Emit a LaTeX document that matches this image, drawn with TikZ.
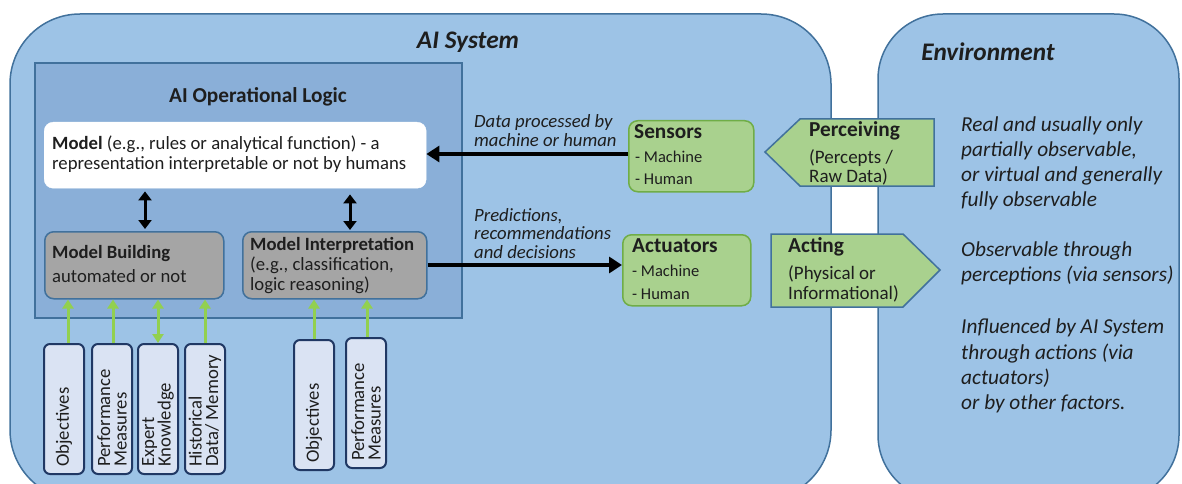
\documentclass[tikz,border=0pt]{standalone}
\usepackage{fontspec}
\setmainfont{Carlito}
\usetikzlibrary{arrows.meta}
\definecolor{sysblue}{HTML}{9DC3E6}
\definecolor{sysedge}{HTML}{41719C}
\definecolor{oplogic}{HTML}{8AAFD8}
\definecolor{greenfill}{HTML}{A9D18E}
\definecolor{greenedge}{HTML}{70AD47}
\definecolor{grayfill}{HTML}{A5A5A5}
\definecolor{inpfill}{HTML}{DAE3F3}
\definecolor{inpedge}{HTML}{203864}
\definecolor{arrowgreen}{HTML}{92D050}
\definecolor{txt}{HTML}{1E1E1E}
\begin{document}
\begin{tikzpicture}[x=1pt,y=-1pt,
  every node/.style={text=txt},
  bigbox/.style={draw=sysedge, line width=1.5pt, fill=sysblue},
  inbox/.style={draw=inpedge, line width=2pt, fill=inpfill, rounded corners=6pt,
    minimum width=40pt, minimum height=130pt, inner sep=0pt, anchor=north west},
  greenbox/.style={draw=greenedge, line width=1.5pt, fill=greenfill, rounded corners=9pt,
    inner sep=0pt, anchor=north west},
  graybox/.style={draw=sysedge, line width=1.5pt, fill=grayfill, rounded corners=9pt,
    inner sep=0pt, anchor=north west},
  lbl/.style={inner sep=0pt, align=left},
  rlbl/.style={inner sep=0pt, align=left, rotate=90, anchor=west,
    font=\fontsize{18.7}{16.5}\selectfont},
  blackarrow/.style={draw=black, line width=4.5pt, -{Triangle[length=13pt,width=16pt]}},
  dblarrow/.style={draw=black, line width=3pt, {Triangle[length=9pt,width=13pt]}-{Triangle[length=9pt,width=13pt]}},
  garrow/.style={draw=arrowgreen, line width=3pt, -{Triangle[length=9pt,width=11pt]}},
  gdarrow/.style={draw=arrowgreen, line width=3pt, {Triangle[length=9pt,width=11pt]}-{Triangle[length=9pt,width=11pt]}},
  pent/.style={draw=sysedge, line width=1.5pt, fill=greenfill, line join=miter}
]
\useasboundingbox (0,0) rectangle (1182,484);
\clip (0,0) rectangle (1182,484);

% big containers
\draw[bigbox, rounded corners=70pt] (10,14) rectangle (831,500);
\draw[bigbox, rounded corners=65pt] (878,14) rectangle (1179,500);

\node[font=\fontsize{25.3}{28}\selectfont\bfseries\itshape] (aisys) at (468,42) {AI System};
\node[font=\fontsize{25.3}{28}\selectfont\bfseries\itshape] (env) at (988,52) {Environment};

% operational logic
\draw[draw=sysedge, line width=1.5pt, fill=oplogic] (35,63) rectangle (462,318);
\node[font=\fontsize{21.3}{24}\selectfont\bfseries] (opl) at (258,97) {AI Operational Logic};

\node[draw=white, fill=white, rounded corners=9pt, minimum width=382pt, minimum height=66pt,
  inner sep=0pt, anchor=north west] (model) at (44,122) {};
\node[lbl, anchor=north west, font=\fontsize{18.7}{20}\selectfont] (modeltxt) at (52,136)
  {\textbf{Model} (e.g., rules or analytical function) - a\\representation interpretable or not by humans};

\node[graybox, minimum width=179pt, minimum height=67pt] (mb) at (44,231) {};
\node[lbl, anchor=north west, font=\fontsize{18.7}{24}\selectfont] (mbtxt) at (52,245)
  {\textbf{Model Building}\\automated or not};

\node[graybox, minimum width=184pt, minimum height=67pt] (mi) at (242,231) {};
\node[lbl, anchor=north west, font=\fontsize{18.7}{20}\selectfont] (mitxt) at (250,237)
  {\textbf{Model Interpretation}\\(e.g., classification,\\logic reasoning)};

\draw[dblarrow] ([yshift=-3]model.south -| 145,0) -- ([yshift=2]mb.north -| 145,0);
\draw[dblarrow] ([yshift=-6]model.south -| 350,0) -- ([yshift=1]mi.north -| 350,0);

% sensors / actuators
\node[greenbox, minimum width=125pt, minimum height=71pt] (sens) at (628,120) {};
\node[lbl, anchor=west, font=\fontsize{21.3}{24}\selectfont\bfseries] (senst) at (634,132) {Sensors};
\node[lbl, anchor=north west, font=\fontsize{16.5}{22}\selectfont] (sensl) at (635,151) {- Machine\\- Human};

\node[greenbox, minimum width=128pt, minimum height=71pt] (act) at (622,234) {};
\node[lbl, anchor=west, font=\fontsize{21.3}{24}\selectfont\bfseries] (actt) at (632,246) {Actuators};
\node[lbl, anchor=north west, font=\fontsize{16.5}{23}\selectfont] (actl) at (632,265) {- Machine\\- Human};

\draw[blackarrow] (sens.west |- 0,154) -- (model.east |- 0,154);
\draw[blackarrow] (mi.east |- 0,265) -- (act.west |- 0,265);

\node[lbl, anchor=north west, font=\fontsize{18.7}{19}\selectfont\itshape] (dpl) at (474,114)
  {Data processed by\\machine or human};
\node[lbl, anchor=north west, font=\fontsize{18.7}{18.5}\selectfont\itshape] (pdl) at (474,208)
  {Predictions,\\recommendations\\and decisions};

% perceiving / acting
\draw[pent] (765,152) -- (800,119) -- (934,119) -- (934,186) -- (800,186) -- cycle;
\node[lbl, anchor=west, font=\fontsize{21.3}{24}\selectfont\bfseries] (perc) at (809,131) {Perceiving};
\node[lbl, anchor=north west, font=\fontsize{19}{19}\selectfont] (percl) at (809,149) {(Percepts /\\Raw Data)};

\draw[pent] (771,234) -- (903,234) -- (940,270) -- (903,307) -- (771,307) -- cycle;
\node[lbl, anchor=west, font=\fontsize{21.3}{24}\selectfont\bfseries] (actg) at (788,247) {Acting};
\node[lbl, anchor=north west, font=\fontsize{19}{20}\selectfont] (actgl) at (788,265) {(Physical or\\Informational)};

% environment text
\node[lbl, anchor=north west, font=\fontsize{21.3}{25}\selectfont\itshape] (e1) at (961,117)
  {Real and usually only\\partially observable,\\or virtual and generally\\fully observable};
\node[lbl, anchor=north west, font=\fontsize{21.3}{25}\selectfont\itshape] (e2) at (961,242)
  {Observable through\\perceptions (via sensors)};
\node[lbl, anchor=north west, font=\fontsize{21.3}{25.3}\selectfont\itshape] (e3) at (961,319)
  {Influenced by AI System\\through actions (via\\actuators)\\or by other factors.};

% input boxes
\node[inbox] (obj1) at (43,343) {};
\node[inbox] (pm1) at (91,343) {};
\node[inbox] (ek) at (137,343) {};
\node[inbox] (hd) at (184,343) {};
\node[inbox] (obj2) at (293,339) {};
\node[inbox] (pm2) at (345,337) {};

\node[rlbl] (obj1t) at ([yshift=8]obj1.south) {Objectives};
\node[rlbl] (pm1t) at ([yshift=8]pm1.south) {Performance\\Measures};
\node[rlbl] (ekt) at ([yshift=8]ek.south) {Expert\\Knowledge};
\node[rlbl] (hdt) at ([yshift=8]hd.south) {Historical\\Data/ Memory};
\node[rlbl] (obj2t) at ([yshift=8]obj2.south) {Objectives};
\node[rlbl] (pm2t) at ([yshift=8]pm2.south) {Performance\\Measures};

\draw[garrow] ([xshift=4]obj1.north) -- ([xshift=4]obj1.north |- mb.south);
\draw[garrow] ([xshift=1]pm1.north) -- ([xshift=1]pm1.north |- mb.south);
\draw[gdarrow] (ek.north) -- (ek.north |- mb.south);
\draw[garrow] (hd.north) -- (hd.north |- mb.south);
\draw[garrow] (obj2.north) -- (obj2.north |- mi.south);
\draw[garrow] ([xshift=1]pm2.north) -- ([xshift=1]pm2.north |- mi.south);
\end{tikzpicture}
\end{document}
